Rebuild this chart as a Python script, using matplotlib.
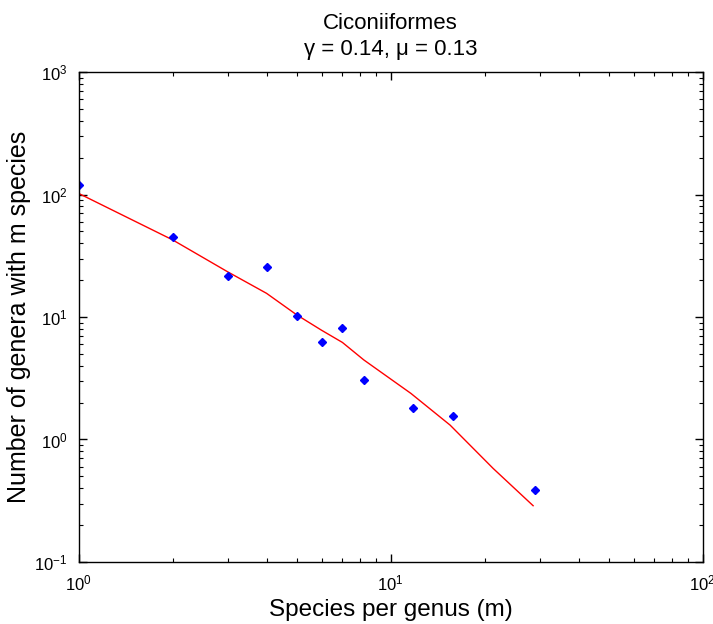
import matplotlib
matplotlib.use("Agg")
import matplotlib.pyplot as plt
import numpy as np

plt.rcParams['font.family'] = ['Liberation Sans', 'DejaVu Sans']
plt.rcParams['mathtext.fontset'] = 'custom'
plt.rcParams['mathtext.rm'] = 'Liberation Sans'
plt.rcParams['mathtext.it'] = 'Liberation Sans:italic'
plt.rcParams['mathtext.bf'] = 'Liberation Sans:bold'

# observed points (species per genus, number of genera)
m_obs = [1, 2, 3, 4, 5, 6, 7, 8.2, 11.8, 15.8, 28.9]
n_obs = [119, 44.7, 21.5, 25.5, 10.1, 6.2, 8.2, 3.06, 1.80, 1.56, 0.387]

# fitted model curve
m_fit = [1, 2, 3, 4, 5, 6, 7, 8.2, 11.6, 15.5, 21.3, 28.6]
n_fit = [102, 42.6, 23.4, 15.6, 10.4, 7.8, 6.2, 4.46, 2.38, 1.31, 0.58, 0.288]

titulo = "Ciconiiformes\nγ = 0.14, μ = 0.13"

fig = plt.figure(figsize=(7.13, 6.24), dpi=100)
ax = fig.add_axes([0.1104, 0.0994, 0.8752, 0.7852])

ax.plot(m_fit, n_fit, color='red', linewidth=1)
ax.plot(m_obs, n_obs, linestyle='none', marker='D', markersize=4,
        color='blue', markeredgecolor='blue')

ax.set_xscale('log')
ax.set_yscale('log')
ax.set_xlim(1, 100)
ax.set_ylim(0.1, 1000)

ax.tick_params(which='both', direction='in', top=True, right=True,
               labelsize=12, pad=8)
ax.tick_params(which='major', length=6, width=1)
ax.tick_params(which='minor', length=3, width=0.8)
for s in ax.spines.values():
    s.set_linewidth(1)

ax.set_xlabel("Species per genus (m)", fontsize=17.5, labelpad=4)
ax.set_ylabel("Number of genera with m species", fontsize=18, labelpad=2)
ax.set_title(titulo, fontsize=16, pad=12, linespacing=1.35)

fig.savefig("out.png", dpi=100)
